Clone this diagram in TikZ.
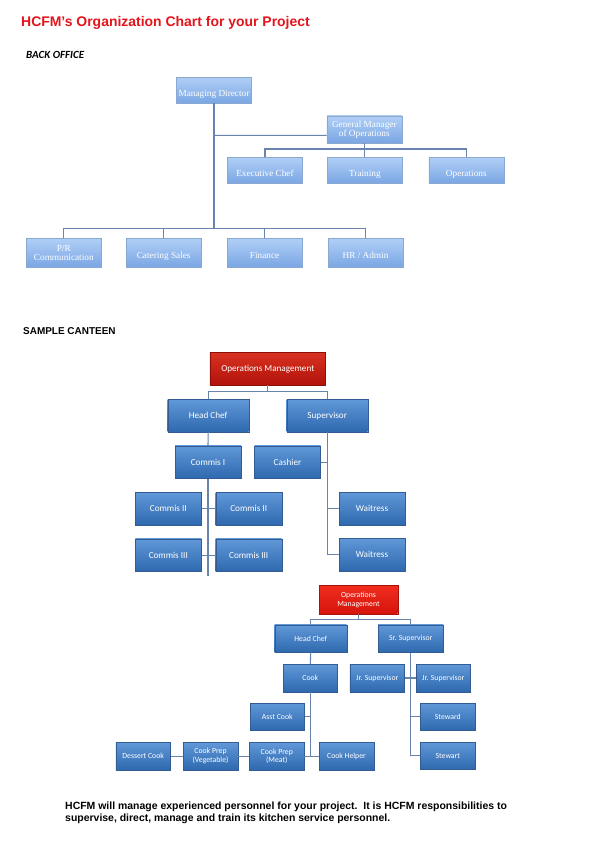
\documentclass[tikz,border=0pt]{standalone}
\usepackage{fontspec}
\setmainfont{Liberation Sans}
\newfontfamily\bofont{Liberation Serif}
\newfontfamily\cbfont{Carlito}
\usetikzlibrary{positioning,calc}
\definecolor{hred}{RGB}{228,20,28}
\definecolor{boT}{RGB}{176,207,246}
\definecolor{boB}{RGB}{122,166,228}
\definecolor{boD}{RGB}{138,168,208}
\definecolor{cbT}{RGB}{96,152,216}
\definecolor{cbB}{RGB}{46,104,174}
\definecolor{cbD}{RGB}{50,92,146}
\definecolor{rbT}{RGB}{216,50,34}
\definecolor{rbB}{RGB}{178,18,10}
\definecolor{rcT}{RGB}{240,44,30}
\definecolor{rcB}{RGB}{214,20,12}
\definecolor{lnc}{RGB}{104,132,172}
\tikzset{
  bo/.style  ={draw=boD,top color=boT,bottom color=boB,text=white,align=center,
               font=\bofont\fontsize{9.3}{9}\selectfont,inner sep=1pt,
               minimum width=75bp,minimum height=26bp},
  b1/.style  ={bo,text height=12bp,text depth=0bp},
  cb/.style  ={draw=cbD,top color=cbT,bottom color=cbB,text=white,align=center,
               font=\cbfont\fontsize{9.2}{10}\selectfont,inner sep=1pt,
               minimum width=66bp,minimum height=32.5bp},
  cs/.style  ={cb,font=\cbfont\fontsize{7.8}{8.6}\selectfont,
               minimum width=54.5bp,minimum height=27.5bp},
  rb/.style  ={cb,draw=rbB!80!black,top color=rbT,bottom color=rbB},
  rc/.style  ={cs,draw=rcB!80!black,top color=rcT,bottom color=rcB},
  hd/.style  ={anchor=base west,inner sep=0pt},
  ug/.style  ={draw=lnc,line width=1.1pt},
}
\begin{document}
\begin{tikzpicture}[x=1bp,y=-1bp]
\useasboundingbox[fill=white] (0,0) rectangle (595,842);
% headings
\node[hd,text=hred,font=\bfseries\fontsize{14}{16}\selectfont] (T) at (21,26) {HCFM’s Organization Chart for your Project};
\node[hd,font=\cbfont\bfseries\itshape\fontsize{11}{12}\selectfont] (BO) at (26,58) {BACK OFFICE};
\node[hd,font=\bfseries\fontsize{10}{11}\selectfont] (SC) at (23,334.3) {SAMPLE CANTEEN};
% back office
\node[b1] (MD) at (214,90) {Managing Director};
\node[bo,minimum height=27bp] (GM) at (364.3,129.3) {General Manager\\of Operations};
\node[b1] (EC) at (265,170.3) {Executive Chef};
\node[b1,right=24.5bp of EC] (TR) {Training};
\node[b1,right=26bp of TR] (OP) {Operations};
\node[bo,minimum height=29bp] (PR) at (63.8,252.8) {P/R\\Communication};
\node[b1,minimum height=29bp,right=24.5bp of PR] (CS) {Catering Sales};
\node[b1,minimum height=29bp,right=25.5bp of CS] (FI) {Finance};
\node[b1,minimum height=29bp,right=25.5bp of FI] (HR) {HR / Admin};
\coordinate (bj) at ($(MD.south)+(0,125.3)$);
\coordinate (gj) at ($(GM.south)+(0,6)$);
\draw[ug] (MD.south) -- (bj); \draw[ug] (MD.south |- GM.west) ++(0,6) -- ([yshift=-6bp]GM.west);
\draw[ug] (GM.south) -- (gj); \draw[ug] (EC.north) |- (gj) -| (OP.north); \draw[ug] (TR.north) -- (TR.north |- gj);
\draw[ug] (PR.north) |- (bj) -| (HR.north); \draw[ug] (CS.north) -- (CS.north |- bj); \draw[ug] (FI.north) -- (FI.north |- bj);
% sample canteen
\node[rb,minimum width=115.7bp] (OA) at (267.8,368.7) {Operations Management};
\node[cb,minimum width=81bp] (HA) at (208.2,415.7) {Head Chef};
\node[cb,minimum width=81bp] (SA) at (327.2,415.7) {Supervisor};
\node[cb] (CI) at (208,462.2) {Commis I};
\node[cb] (CA) at (287.5,462.2) {Cashier};
\node[cb] (C2L) at (168.3,508.8) {Commis II};
\node[cb,right=14bp of C2L] (C2R) {Commis II};
\node[cb] (C3L) at (168.3,555.2) {Commis III};
\node[cb,right=14bp of C3L] (C3R) {Commis III};
\node[cb] (WA) at (372,508.5) {Waitress};
\node[cb] (WB) at (372,554.6) {Waitress};
\coordinate (oj) at ($(OA.south)+(0,6.5)$);
\coordinate (ce) at ($(CI.south)+(0,97)$);
\draw[ug] (OA.south) -- (oj); \draw[ug] (HA.north) |- (oj) -| (SA.north);
\draw[ug] (HA.south) -- (CI.north); \draw[ug] (CI.south) -- (ce);
\draw[ug] (C2L.east) -- (C2R.west); \draw[ug] (C3L.east) -- (C3R.west);
\draw[ug] (SA.south) |- (WB.west); \draw[ug] (WA.west) -- (WA.west -| SA.south);
\draw[ug] (CA.east) -- (CA.east -| SA.south);
% second canteen
\node[rc,minimum width=78.4bp,minimum height=28.3bp] (OB) at (358.5,599.8) {Operations\\Management};
\node[cs,minimum width=72bp] (HB) at (310.7,638.7) {Head Chef};
\node[cs,minimum width=65.3bp] (SS) at (410.7,638.7) {Sr. Supervisor};
\node[cs] (CK) at (310.3,678) {Cook};
\node[cs] (J1) at (377.2,678) {Jr. Supervisor};
\node[cs] (J2) at (443.3,678) {Jr. Supervisor};
\node[cs] (SW) at (447.8,716.8) {Steward};
\node[cs] (ST) at (447.8,755.8) {Stewart};
\node[cs] (AC) at (277.3,716.8) {Asst Cook};
\node[cs] (CM) at (276.8,756.2) {Cook Prep\\(Meat)};
\node[cs] (CH) at (346.5,756.2) {Cook Helper};
\node[cs] (CV) at (210.5,756.2) {Cook Prep\\(Vegetable)};
\node[cs] (DC) at (143.2,756.2) {Dessert Cook};
\coordinate (pj) at ($(OB.south)+(0,5.3)$);
\draw[ug] (OB.south) -- (pj); \draw[ug] (HB.north) |- (pj) -| (SS.north);
\draw[ug] (HB.south) -- (CK.north); \draw[ug] (CK.south) -- (CK.south |- CM.east);
\draw[ug] (AC.east) -- (AC.east -| CK.south); \draw[ug] (CM.east) -- (CH.west);
\draw[ug] (CV.east) -- (CM.west); \draw[ug] (DC.east) -- (CV.west);
\draw[ug] (SS.south) |- (ST.west); \draw[ug] (J1.east) -- (J2.west);
\draw[ug] (SW.west) -- (SW.west -| SS.south);
% closing note
\node[hd,font=\bfseries\fontsize{10.5}{12}\selectfont,align=left,anchor=north west] (NT) at (65,801.5) {HCFM will manage experienced personnel for your project.\ \ It is HCFM responsibilities to\\supervise, direct, manage and train its kitchen service personnel.};
\end{tikzpicture}
\end{document}
